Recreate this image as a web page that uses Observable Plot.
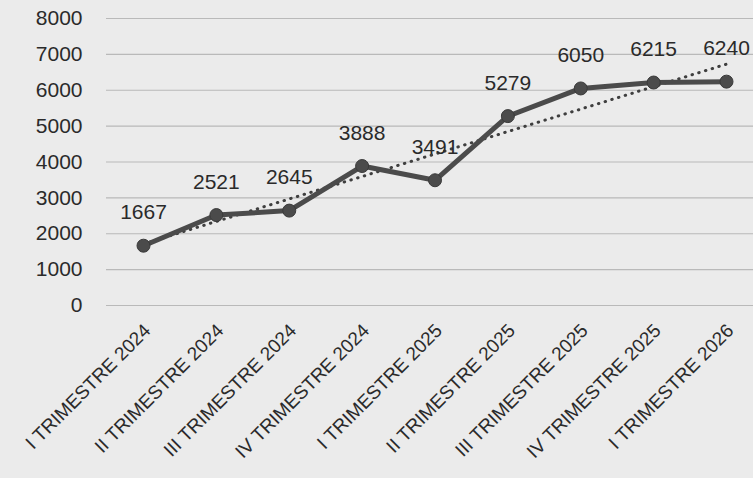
<!DOCTYPE html>
<html>
<head>
<meta charset="utf-8">
<script src="https://cdn.jsdelivr.net/npm/d3@7"></script>
<script src="https://cdn.jsdelivr.net/npm/@observablehq/plot@0.6"></script>
<style>
  html, body { margin: 0; padding: 0; background: #ebebeb; }
  #chart svg { display: block; background: #ebebeb; }
</style>
</head>
<body>
<div id="chart"></div>
<script>
const periods = [
  "I TRIMESTRE 2024", "II TRIMESTRE 2024", "III TRIMESTRE 2024", "IV TRIMESTRE 2024",
  "I TRIMESTRE 2025", "II TRIMESTRE 2025", "III TRIMESTRE 2025", "IV TRIMESTRE 2025",
  "I TRIMESTRE 2026"
];
const values = [1667, 2521, 2645, 3888, 3491, 5279, 6050, 6215, 6240];
const yTicks = [0, 1000, 2000, 3000, 4000, 5000, 6000, 7000, 8000];

const data = periods.map((p, i) => ({i, period: p, value: values[i]}));

const chart = Plot.plot({
  width: 753,
  height: 478,
  marginLeft: 106,
  marginRight: 0,
  marginTop: 18,
  marginBottom: 173,
  style: {background: "#ebebeb", color: "#2a2a2a", fontFamily: "'Liberation Sans', Arial, sans-serif"},
  x: {type: "linear", domain: [0, periods.length - 1], range: [143, 726]},
  y: {domain: [0, 8000]},
  marks: [
    Plot.ruleY(yTicks, {stroke: "#b9b9b9", strokeWidth: 1.2}),
    Plot.axisY({ticks: yTicks, tickSize: 0, tickPadding: 24, fontSize: 21, tickFormat: d => String(d), label: null}),
    Plot.axisX({
      ticks: data.map(d => d.i),
      tickFormat: i => periods[i],
      tickSize: 0,
      tickRotate: -45,
      tickPadding: 22,
      dx: 4,
      fontSize: 19,
      label: null
    }),
    Plot.linearRegressionY(data, {x: "i", y: "value", ci: 0, stroke: "#3f3f3f", strokeWidth: 3, strokeDasharray: "0.5,6.5", strokeLinecap: "round"}),
    Plot.line(data, {x: "i", y: "value", stroke: "#4b4b4b", strokeWidth: 5}),
    Plot.dot(data, {x: "i", y: "value", r: 6.5, fill: "#4b4b4b", stroke: "#3a3a3a", strokeWidth: 1}),
    Plot.text(data, {x: "i", y: "value", text: d => String(d.value), dy: -33, fontSize: 21, fill: "#2a2a2a"})
  ]
});
document.getElementById("chart").appendChild(chart);
</script>
</body>
</html>
